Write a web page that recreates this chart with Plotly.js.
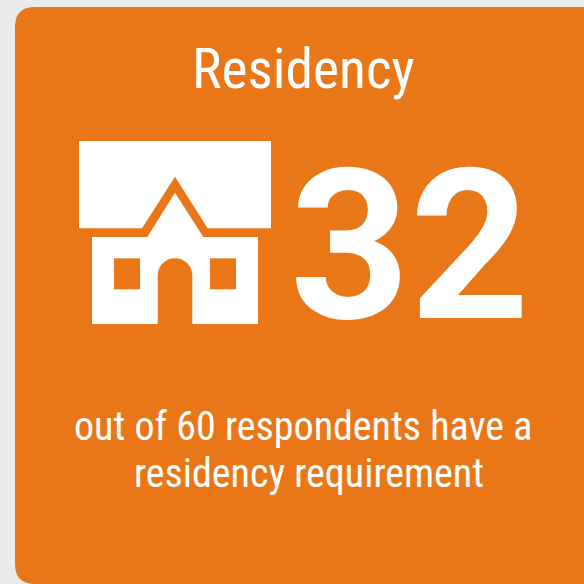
<!DOCTYPE html>
<html><head><meta charset="utf-8">
<script src="https://cdn.plot.ly/plotly-3.0.1.min.js"></script>
<style>html,body{margin:0;padding:0;background:#e9ecea;overflow:hidden}
#c{width:584px;height:584px}
.annotation-text{font-stretch:75%}
.annotation[data-index="1"] .annotation-text{font-stretch:100% !important}
</style></head><body><div id="c"></div>
<script>
const titleText = "Residency";
const respondentsCount = 32;
const captionLines = ["out of 60 respondents have a", "residency requirement"];
const cardColor = "#e97717", pageColor = "#e9ecea", inkColor = "#ffffff";

const card = "M15,27 Q15,7 35,7 L584,7 L584,584 L35,584 Q15,584 15,564 Z";
const houseRoof = "M79,141 L271,141 L271,228.3 L207.7,228.3 L175,176.7 L142,228.3 L79,228.3 Z";
const houseBody = "M92,237 L147.3,237 L175,192.7 L203.3,237 L258,237 L258,324 L92,324 Z";
const windowLeft = "M114,258.3 L140,258.3 L140,289.3 L114,289.3 Z";
const windowRight = "M210,258.3 L236,258.3 L236,289.3 L210,289.3 Z";
const door = "M157.7,324 L157.7,275.6 C157.7,266 165.4,258.3 175,258.3 C184.6,258.3 192.3,266 192.3,275.6 L192.3,324 Z";

const sh = (path, color) => ({type:"path", xref:"x", yref:"y", path, fillcolor:color, line:{width:0}, layer:"below"});
const font = {family:"Roboto, sans-serif", color:inkColor};
const ann = (text, x, y, size, extra) => Object.assign({text, x, y, xref:"x", yref:"y", showarrow:false,
  xanchor:"center", yanchor:"middle", font:Object.assign({}, font, {size})}, extra||{});

Plotly.newPlot("c", [{x:[0,584], y:[0,584], type:"scatter", mode:"markers", marker:{opacity:0}, hoverinfo:"skip"}], {
  width:584, height:584, margin:{l:0,r:0,t:0,b:0}, showlegend:false,
  paper_bgcolor:pageColor, plot_bgcolor:pageColor,
  xaxis:{range:[0,584], visible:false, fixedrange:true},
  yaxis:{range:[584,0], visible:false, fixedrange:true},
  shapes:[sh(card,cardColor), sh(houseRoof,inkColor), sh(houseBody,inkColor),
          sh(windowLeft,cardColor), sh(windowRight,cardColor), sh(door,cardColor)],
  annotations:[
    ann(titleText, 303.5, 69, 55.5),
    ann(String(respondentsCount), 409.5, 246.5, 209, {font:{family:"Roboto, sans-serif", color:inkColor, size:209, weight:700}}),
    ann(captionLines[0], 303, 426, 40),
    ann(captionLines[1], 308.5, 473, 40)
  ]
}, {displayModeBar:false, staticPlot:true});
</script></body></html>
